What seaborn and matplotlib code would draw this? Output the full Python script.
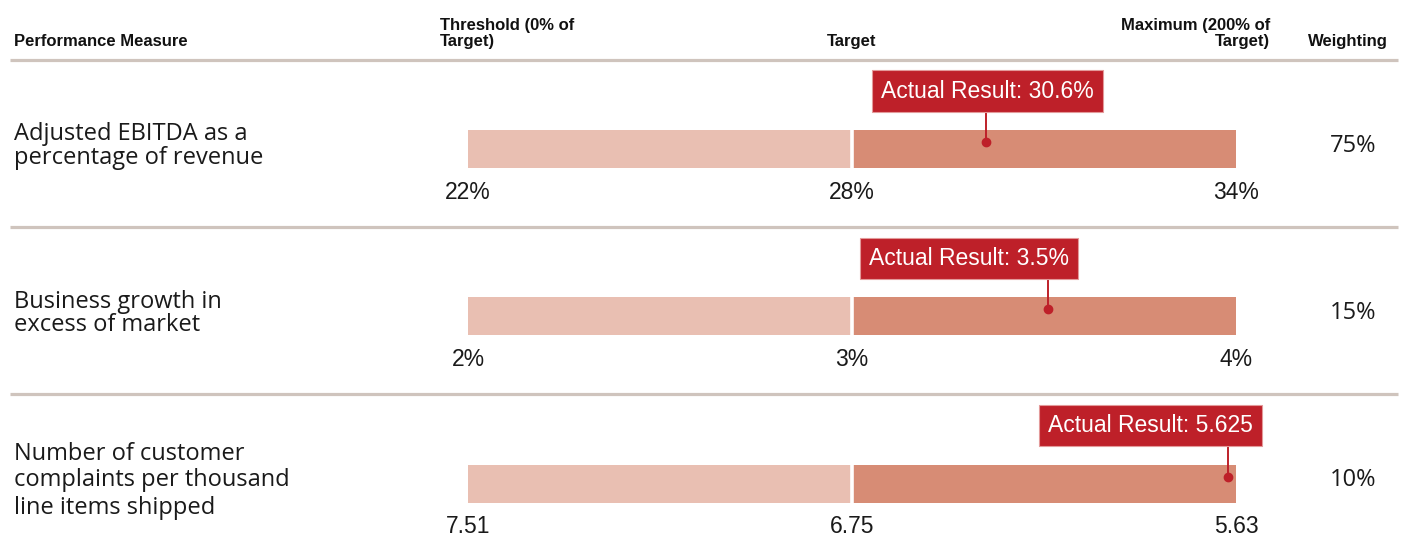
import matplotlib
matplotlib.use("Agg")
import matplotlib.pyplot as plt
from matplotlib import font_manager as fm
import seaborn as sns
import pandas as pd

# ---------------- data ----------------
measures = ["Adjusted EBITDA as a\npercentage of revenue",
            "Business growth in\nexcess of market",
            "Number of customer\ncomplaints per thousand\nline items shipped"]
threshold_labels = ["22%", "2%", "7.51"]
target_labels = ["28%", "3%", "6.75"]
maximum_labels = ["34%", "4%", "5.63"]
actual_labels = ["30.6%", "3.5%", "5.625"]
actual_position = [135, 151, 198]      # position on the 0-200% of target scale
weightings = ["75%", "15%", "10%"]
threshold_pct = [0, 0, 0]
target_pct = [100, 100, 100]
maximum_pct = [200, 200, 200]

hdr_measure = "Performance Measure"
hdr_threshold = "Threshold (0% of\nTarget)"
hdr_target = "Target"
hdr_maximum = "Maximum (200% of\nTarget)"
hdr_weight = "Weighting"

# callout horizontal shift relative to marker (layout, pixels)
callout_shift_px = [1, -79, -78]

# ---------------- style ----------------
sns.set_theme(style="white")
plt.rcParams['font.family'] = ['Liberation Sans', 'DejaVu Sans']
names = {f.name for f in fm.fontManager.ttflist}
HEAD_FAMILY = ["Liberation Sans Narrow", "Liberation Sans"] if "Liberation Sans Narrow" in names else ["Liberation Sans"]
HEAD_SIZE = 13 if "Liberation Sans Narrow" in names else 12
LABEL_FAMILY = ["Open Sans", "DejaVu Sans"]

LIGHT = "#e9bfb2"
DARK = "#d78c75"
RED = "#be2029"
RULE = "#cfc4bd"

W, H = 1403, 556
fig = plt.figure(figsize=(W / 100, H / 100), dpi=100)
ax = fig.add_axes([0, 0, 1, 1])

X0, XS = 468.0, 768.0 / 200.0   # pixel of 0%, pixels per unit
Y0, YS = 149.0, 167.25          # pixel of row 0 centre, pixels per row


def xd(px):
    return (px - X0) / XS


def yd(py):
    return (py - Y0) / YS


df = pd.DataFrame({"measure": measures, "maximum": maximum_pct, "target": target_pct,
                   "threshold": threshold_pct})
BAR_H = 38 / YS
sns.barplot(data=df, y="measure", x="maximum", orient="h", color=DARK, saturation=1,
            width=BAR_H, linewidth=0, ax=ax)
sns.barplot(data=df, y="measure", x="target", orient="h", color=LIGHT, saturation=1,
            width=BAR_H, linewidth=0, ax=ax)
# white gap between the two segments
rows = list(range(len(measures)))
ax.vlines(target_pct, [r - BAR_H / 2 - 0.002 for r in rows], [r + BAR_H / 2 + 0.002 for r in rows],
          colors="white", lw=2.6, zorder=4)

ax.set_xlim(xd(0), xd(W))
ax.set_ylim(yd(H), yd(0))
ax.axis("off")


def ftext(px, py, s, **kw):
    fig.text(px / W, 1 - py / H, s, **kw)


# header & rules
for py in (60, 226.5, 393.5):
    ax.plot([xd(10), xd(1398)], [yd(py), yd(py)], color=RULE, lw=2.3, solid_capstyle="butt")

hk = dict(family=HEAD_FAMILY, fontsize=HEAD_SIZE, fontweight="bold", color="#111111", va="baseline")
ftext(14, 46, hdr_measure, ha="left", **hk)
for i, line in enumerate(hdr_threshold.split("\n")):
    ftext(440, 30 + 16 * i, line, ha="left", **hk)
ftext(852, 46, hdr_target, ha="center", **hk)
for i, line in enumerate(hdr_maximum.split("\n")):
    ftext(1270, 30 + 16 * i, line, ha="right", **hk)
ftext(1388, 46, hdr_weight, ha="right", **hk)

# rows
for k in rows:
    cy = Y0 + YS * k
    lines = measures[k].split("\n")
    gap = 23.5 if len(lines) == 2 else 27
    start = cy + 3 - gap * (len(lines) - 1) / 2
    for j, line in enumerate(lines):
        ftext(14, start + gap * j, line, ha="left", va="baseline",
              family=LABEL_FAMILY, fontsize=17, color="#1a1a1a")

    # value labels under the bar
    vy = yd(cy + 49.5)
    for v, lab in zip((threshold_pct[k], target_pct[k], maximum_pct[k]),
                      (threshold_labels[k], target_labels[k], maximum_labels[k])):
        ax.text(v, vy, lab, ha="center", va="baseline", fontsize=16.5, color="#1a1a1a")

    # weighting
    ftext(1353, cy + 3, weightings[k], ha="center", va="baseline",
          family=LABEL_FAMILY, fontsize=17, color="#1a1a1a")

    # actual result marker + callout
    xa = actual_position[k]
    ax.plot([xa, xa], [k + yd(Y0 - 37), k + yd(Y0 - 7)], color=RED, lw=1.4, zorder=5)
    ax.plot([xa], [k + yd(Y0 - 7)], marker="o", ms=6, color=RED, mec=RED, zorder=6)
    ax.text(xa + callout_shift_px[k] / XS, k + yd(Y0 - 58), f"Actual Result: {actual_labels[k]}",
            ha="center", va="center", fontsize=16.5, color="white", zorder=7,
            bbox=dict(boxstyle="square,pad=0.4", fc=RED, ec="#e39a9a", lw=0.8))

fig.savefig("out.png", dpi=100)
